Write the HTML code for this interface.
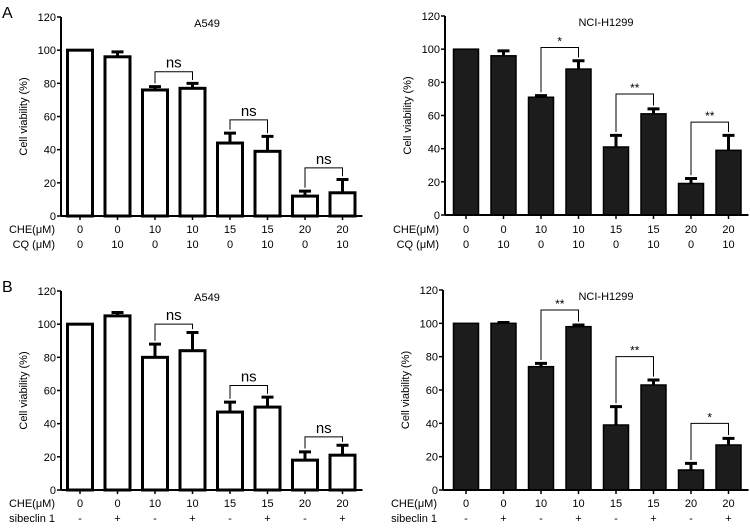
<!DOCTYPE html>
<html><head><meta charset="utf-8"><style>
body{margin:0;background:#fff;width:750px;height:525px;overflow:hidden}
svg text{font-family:"Liberation Sans",sans-serif;fill:#000}
</style></head><body>
<svg id="fig" width="750" height="525"></svg>
<script>
const che = ["0","0","10","10","15","15","20","20"];
const cqLabels = ["0","10","0","10","0","10","0","10"];
const sibLabels = ["-","+","-","+","-","+","-","+"];
const yTicks = [0,20,40,60,80,100,120];
const tlMean = [100,96,76,77,44,39,12,14];
const tlErr  = [0,3,2,3,6,9,3,8];
const trMean = [100,96,71,88,41,61,19,39];
const trErr  = [0,3,1,5,7,3,3,9];
const blMean = [100,105,80,84,47,50,18,21];
const blErr  = [0,2,8,11,6,6,5,6];
const brMean = [100,100,74,98,39,63,12,27];
const brErr  = [0,0.5,2,1,11,3,4,4];
const tlSig = ["ns","ns","ns"], tlSigY = [87,58,29];
const trSig = ["*","**","**"], trSigY = [101,73,56];
const blSig = ["ns","ns","ns"], blSigY = [100,63,32];
const brSig = ["**","**","*"], brSigY = [108,80,40];

const NS="http://www.w3.org/2000/svg";
const svg=document.getElementById('fig');
function el(tag,attrs,parent,txt){const e=document.createElementNS(NS,tag);for(const k in attrs)e.setAttribute(k,attrs[k]);if(txt!==undefined)e.textContent=txt;(parent||svg).appendChild(e);return e;}

function panel(o){
  const g=el('g',{});
  
  
  const ax=o.ax, y0=o.y0, h=o.h;
  const y=v=>y0-v/120*h;
  const x=i=>o.x0+i*37.5;
  // y-axis
  const ya=el('line',{x1:ax,y1:y(120),x2:ax,y2:y0,stroke:'#000','stroke-width':2},g);
  
  yTicks.forEach(t=>{
    el('line',{x1:ax-4,y1:y(t),x2:ax,y2:y(t),stroke:'#000','stroke-width':1.5},g);
    const tx=el('text',{x:ax-5,y:y(t)+4,'text-anchor':'end','font-size':11},g,t);
    
  });
  const yt=el('text',{transform:`translate(${ax-34},${y(60)}) rotate(-90)`,'text-anchor':'middle','font-size':11},g,'Cell viability (%)');
  
  const tt=el('text',{x:o.tx,y:y(120)+10,'text-anchor':'middle','font-size':11},g,o.title);
  
  // bars
  o.mean.forEach((m,i)=>{
    const cx=x(i), w=25;
    const r=el('rect',{x:cx-w/2,y:y(m),width:w,height:y0-y(m),fill:o.fill,stroke:'#000','stroke-width':o.fill==='#fff'?3:1.5},g);
    
    if(o.err[i]>0){
      const e=el('path',{d:`M${cx},${y(m)} V${y(m+o.err[i])} M${cx-6},${y(m+o.err[i])} H${cx+6}`,stroke:'#000','stroke-width':3,fill:'none'},g);
      
    }
    el('line',{x1:cx,y1:y0,x2:cx,y2:y0+4,stroke:'#000','stroke-width':1.5},g);
    const l1=el('text',{x:cx,y:o.ly,'text-anchor':'middle','font-size':11},g,che[i]);
    
    const l2=el('text',{x:cx,y:o.ly+15,'text-anchor':'middle','font-size':11},g,o.row2[i]);
    
  });
  const xa=el('line',{x1:ax,y1:y0,x2:x(7)+20,y2:y0,stroke:'#000','stroke-width':2},g);
  
  const r1=el('text',{x:ax-6,y:o.ly,'text-anchor':'end','font-size':11},g,'CHE(μM)');
  
  const r2=el('text',{x:ax-6,y:o.ly+15,'text-anchor':'end','font-size':11},g,o.row2title);
  
  // significance
  o.sig.forEach((s,k)=>{
    const a=2+2*k,b=a+1;
    const la=o.mean[a]+o.err[a]+2, lb=o.mean[b]+o.err[b]+2;
    const p=el('path',{d:`M${x(a)},${y(la)} V${y(o.sigY[k])} H${x(b)} V${y(lb)}`,stroke:'#000','stroke-width':1,fill:'none'},g);
    
    const st=el('text',{x:(x(a)+x(b))/2,y:y(o.sigY[k])-(s==='ns'?4:2),'text-anchor':'middle','font-size':s==='ns'?15:12},g,s);
    
  });
}
panel({name:'panel-a-a549',ax:61,y0:216,h:199,x0:80,fill:'#fff',mean:tlMean,err:tlErr,title:'A549',tx:207,ly:233,row2:cqLabels,row2title:'CQ (μM)',sig:tlSig,sigY:tlSigY});
panel({name:'panel-a-h1299',ax:445,y0:215,h:199,x0:466,fill:'#1c1c1c',mean:trMean,err:trErr,title:'NCI-H1299',tx:606,ly:233,row2:cqLabels,row2title:'CQ (μM)',sig:trSig,sigY:trSigY});
panel({name:'panel-b-a549',ax:61,y0:490,h:199,x0:80,fill:'#fff',mean:blMean,err:blErr,title:'A549',tx:207,ly:507,row2:sibLabels,row2title:'sibeclin 1',sig:blSig,sigY:blSigY});
panel({name:'panel-b-h1299',ax:443,y0:490,h:200,x0:466,fill:'#1c1c1c',mean:brMean,err:brErr,title:'NCI-H1299',tx:606,ly:507,row2:sibLabels,row2title:'sibeclin 1',sig:brSig,sigY:brSigY});
const A=el('text',{x:2,y:18,'font-size':16},svg,'A');
const B=el('text',{x:2,y:292,'font-size':16},svg,'B');
</script>
</body></html>
